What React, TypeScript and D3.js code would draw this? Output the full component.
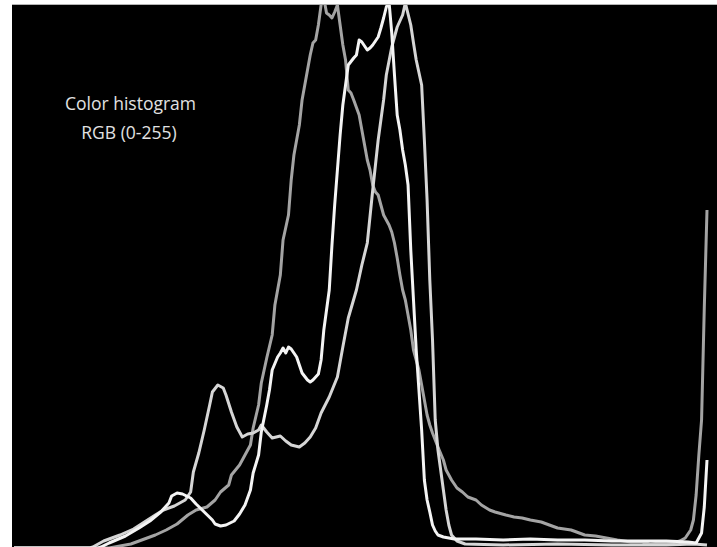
import React from 'react';
import * as d3 from 'd3';

const W = 717;
const H = 547;

// Intensity levels (0-255) and pixel counts
const grayLevels = [0, 35, 37, 43, 46, 52, 56, 60, 64, 67, 71, 74, 76, 79, 80, 83, 85, 87, 88, 90, 91, 93, 95, 96, 98, 99, 101, 102, 103, 104, 105, 106, 108, 109, 110, 111, 112, 113, 114, 115, 116, 117, 118, 119, 120, 121, 122, 123, 124, 125, 127, 128, 129, 130, 131, 132, 133, 134, 135, 136, 138, 139, 140, 141, 142, 143, 144, 145, 146, 147, 149, 150, 151, 152, 153, 154, 155, 156, 158, 159, 161, 163, 165, 167, 170, 172, 175, 177, 181, 184, 187, 190, 194, 197, 200, 205, 210, 214, 218, 222, 227, 231, 234, 238, 242, 245, 247, 249, 250, 251, 252, 253, 254, 255];
const grayCounts = [0, 0, 5, 20, 35, 65, 90, 120, 165, 190, 205, 240, 280, 315, 365, 415, 465, 515, 600, 715, 825, 950, 1065, 1215, 1365, 1540, 1665, 1840, 1965, 2040, 2115, 2240, 2390, 2465, 2525, 2540, 2615, 2715, 2750, 2675, 2665, 2650, 2680, 2715, 2615, 2515, 2440, 2290, 2275, 2240, 2165, 2090, 2015, 1940, 1890, 1815, 1780, 1765, 1715, 1665, 1615, 1580, 1525, 1450, 1365, 1290, 1240, 1165, 1090, 990, 890, 815, 740, 665, 615, 575, 540, 505, 440, 390, 340, 300, 280, 255, 240, 215, 190, 180, 165, 155, 150, 140, 130, 115, 100, 90, 65, 60, 50, 40, 30, 30, 20, 25, 25, 35, 50, 90, 140, 265, 465, 640, 1200, 1690];

const lightLevels = [0, 28, 29, 33, 39, 44, 48, 52, 55, 59, 63, 65, 66, 68, 70, 72, 73, 75, 77, 78, 80, 82, 84, 86, 88, 90, 91, 93, 95, 98, 100, 102, 105, 107, 109, 111, 113, 116, 119, 121, 123, 126, 128, 130, 132, 134, 136, 137, 139, 141, 143, 144, 146, 147, 148, 150, 151, 152, 153, 154, 155, 156, 157, 158, 159, 160, 161, 163, 166, 180, 200, 220, 240, 250, 255];
const lightCounts = [0, 0, 5, 35, 65, 95, 130, 165, 190, 210, 240, 280, 380, 475, 590, 715, 780, 815, 800, 765, 680, 605, 555, 570, 575, 590, 615, 580, 550, 560, 535, 515, 505, 525, 555, 600, 675, 755, 855, 1005, 1150, 1290, 1415, 1525, 1790, 2040, 2240, 2365, 2505, 2605, 2665, 2725, 2615, 2525, 2440, 2315, 2040, 1740, 1340, 1040, 640, 490, 390, 290, 190, 115, 65, 35, 20, 15, 20, 15, 15, 20, 15];

const whiteLevels = [0, 31, 32, 35, 41, 46, 50, 54, 57, 58, 60, 62, 65, 67, 70, 73, 74, 76, 78, 81, 83, 85, 87, 88, 90, 91, 93, 94, 95, 97, 98, 99, 100, 101, 102, 104, 105, 106, 108, 109, 110, 112, 113, 114, 116, 117, 118, 119, 120, 121, 122, 123, 125, 126, 127, 128, 130, 131, 132, 134, 135, 136, 137, 138, 139, 140, 141, 142, 143, 144, 145, 146, 147, 148, 149, 150, 151, 152, 153, 154, 155, 156, 158, 162, 170, 180, 190, 200, 210, 220, 230, 240, 248, 251, 253, 254, 255];
const whiteCounts = [0, 0, 5, 25, 60, 100, 135, 180, 225, 260, 275, 270, 250, 220, 180, 140, 120, 110, 115, 135, 170, 215, 290, 375, 465, 580, 715, 790, 890, 955, 975, 1000, 975, 1005, 995, 955, 915, 875, 840, 830, 840, 870, 940, 1090, 1290, 1515, 1715, 1890, 2065, 2215, 2315, 2415, 2450, 2465, 2540, 2530, 2490, 2500, 2515, 2555, 2600, 2650, 2705, 2730, 2575, 2365, 2165, 2090, 1990, 1915, 1815, 1490, 1240, 990, 790, 590, 340, 240, 180, 115, 85, 65, 55, 45, 45, 40, 45, 40, 40, 35, 35, 35, 30, 25, 75, 205, 440];

const titleLines = ['Color histogram', 'RGB (0-255)'];

const seriesList = [
  { name: 'gray', levels: grayLevels, counts: grayCounts, color: '#a4a4a4' },
  { name: 'light', levels: lightLevels, counts: lightCounts, color: '#d6d6d6' },
  { name: 'white', levels: whiteLevels, counts: whiteCounts, color: '#f4f4f4' },
];

export default function App() {
  const plot = { left: 12, top: 5, right: W, bottom: H };
  const x = d3.scaleLinear().domain([0, 255]).range([14, 707]);
  const y = d3.scaleLinear().domain([0, 2720]).range([548, 4]);

  const line = d3
    .line<[number, number]>()
    .x((d) => x(d[0]))
    .y((d) => y(d[1]))
    .curve(d3.curveLinear);

  return (
    <svg
      width={W}
      height={H}
      style={{ position: 'absolute', left: 0, top: 0, display: 'block' }}
    >
      <defs>
        <clipPath id="plotClip">
          <rect x={plot.left} y={plot.top} width={plot.right - plot.left} height={plot.bottom - plot.top} />
        </clipPath>
      </defs>
      <rect x={0} y={0} width={W} height={H} fill="#ffffff" />
      <rect x={plot.left} y={plot.top} width={plot.right - plot.left} height={plot.bottom - plot.top} fill="#000000" />
      <line x1={plot.left} x2={W} y1={4.5} y2={4.5} stroke="#b4b4b4" strokeWidth={1} />
      <g clipPath="url(#plotClip)">
        {seriesList.map((s) => {
          const pts = s.levels.map((l, i) => [l, s.counts[i]] as [number, number]);
          return (
            <path
              key={s.name}
              d={line(pts) || ''}
              fill="none"
              stroke={s.color}
              strokeWidth={3}
              strokeLinejoin="round"
            />
          );
        })}
      </g>
      <text
        x={130.5}
        y={110}
        textAnchor="middle"
        fill="#e2e2e2"
        fontFamily="'Open Sans', sans-serif"
        fontSize={17.5}
      >
        {titleLines[0]}
      </text>
      <text
        x={129}
        y={139}
        textAnchor="middle"
        fill="#e2e2e2"
        fontFamily="'Open Sans', sans-serif"
        fontSize={17.5}
      >
        {titleLines[1]}
      </text>
    </svg>
  );
}
